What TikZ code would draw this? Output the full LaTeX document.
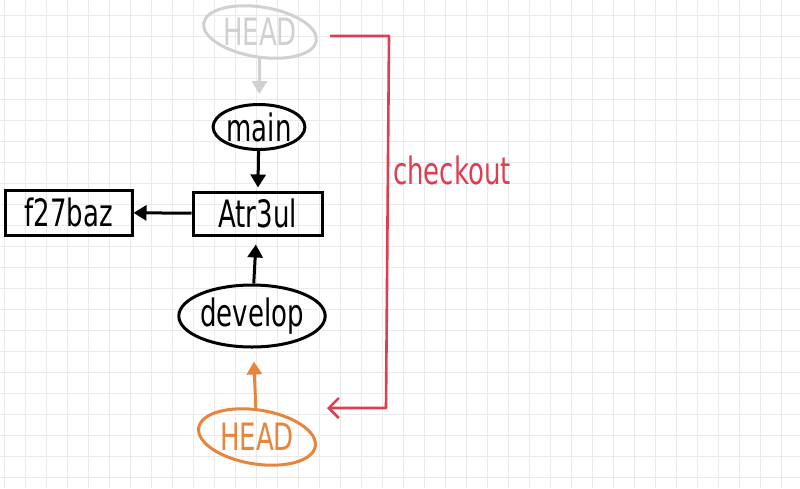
\documentclass[tikz,border=0pt]{standalone}
\usepackage{fontspec}
\setmainfont{DejaVu Sans}
\usetikzlibrary{arrows.meta,shapes.geometric}
\definecolor{gridc}{HTML}{EAEAEA}
\definecolor{headgrey}{HTML}{D0D0D0}
\definecolor{headorange}{HTML}{E8843C}
\definecolor{checkred}{HTML}{E03E50}
\newcommand\hw[1]{\scalebox{1}[1.45]{#1}}
\tikzset{
  hand/.style={font=\fontsize{26}{28}\selectfont, inner sep=0pt},
  refell/.style={hand, ellipse, draw, line width=3pt},
  tiltell/.style={hand, ellipse, draw=none},
  commit/.style={hand, rectangle, draw=black, line width=3pt},
  conn/.style={line width=3pt, -{Triangle[length=13pt,width=15pt]}},
}
\begin{document}
\begin{tikzpicture}[x=1pt,y=-1pt]
\useasboundingbox (0,0) rectangle (800,488);
\fill[white] (0,0) rectangle (800,488);
% grid
\foreach \i in {0,...,38} {\draw[gridc, line width=1.4pt] ({4.7+21*\i},0) -- ({4.7+21*\i},488);}
\foreach \j in {0,...,23} {\draw[gridc, line width=1.4pt] (0,{15.7+21*\j}) -- (800,{15.7+21*\j});}

% nodes
\node[tiltell, text=headgrey, minimum width=112pt, minimum height=50pt] (headtop) at (260,32) {\hw{HEAD}};
\draw[headgrey, line width=3pt, rotate around={-9:(headtop.center)}] (headtop.center) ellipse [x radius=57pt, y radius=25pt];
\node[refell, draw=black, minimum width=90pt, minimum height=45pt] (main) at (259,127) {\hw{main}};
\node[commit, minimum width=129pt, minimum height=43pt] (atr) at (257.5,213.5) {\hw{Atr3ul}};
\node[commit, minimum width=127pt, minimum height=45pt] (f27) at (68.5,212.5) {\hw{f27baz}};
\node[refell, draw=black, minimum width=128pt, minimum height=62pt] (develop) at (252,316) {\hw{develop}};
\node[tiltell, text=headorange, minimum width=118pt, minimum height=54pt] (headbot) at (257,437) {\hw{HEAD}};
\draw[headorange, line width=3pt, rotate around={-9:(headbot.center)}] (headbot.center) ellipse [x radius=59pt, y radius=27pt];
\node[hand, text=checkred] (checkout) at (452,170) {\hw{checkout}};

% connectors
\draw[conn, headgrey, shorten >=9pt] (headtop) -- (main);
\draw[conn, shorten >=3pt] (main) -- (atr);
\draw[conn] (atr) -- (f27);
\draw[conn, shorten >=8pt] (develop) -- (atr);
\draw[conn, headorange, shorten >=13pt] (headbot) -- (develop);

% checkout bracket
\coordinate (ctop) at (330,36);
\coordinate (cbot) at (327,408);
\draw[checkred, line width=2.6pt, line join=round, -{Straight Barb[length=10pt,width=20pt,line width=2.6pt]}]
  (ctop) -- (389,36) -- (386,408) -- (cbot);
\end{tikzpicture}
\end{document}
